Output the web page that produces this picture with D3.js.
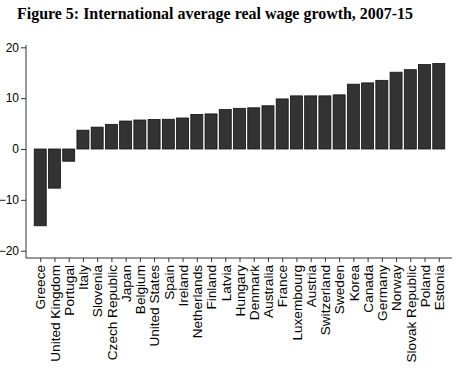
<!DOCTYPE html>
<html><head><meta charset="utf-8">
<script src="https://cdn.jsdelivr.net/npm/d3@7"></script>
<style>body{margin:0;background:#fff}svg{display:block}</style>
</head><body>
<svg id="c" width="464" height="373"></svg>
<script>
const countries = ["Greece","United Kingdom","Portugal","Italy","Slovenia","Czech Republic","Japan","Belgium","United States","Spain","Ireland","Netherlands","Finland","Latvia","Hungary","Denmark","Australia","France","Luxembourg","Austria","Switzerland","Sweden","Korea","Canada","Germany","Norway","Slovak Republic","Poland","Estonia"];
const wageGrowth = [-15.1,-7.7,-2.4,3.7,4.3,4.85,5.5,5.7,5.8,5.85,6.1,6.8,6.9,7.75,8.0,8.1,8.5,9.85,10.45,10.45,10.45,10.65,12.75,13.0,13.5,15.1,15.6,16.6,16.8];
const yTicks = [-20,-10,0,10,20];
const title = "Figure 5: International average real wage growth, 2007-15";

const svg = d3.select("#c");
const x = d3.scalePoint().domain(countries).range([26, 453]).padding(1);
const y = d3.scaleLinear().domain([-20, 20]).range([250.7, 47.3]);
const barW = 12;

svg.append("text").attr("x", 17).attr("y", 19)
  .attr("font-family", "Liberation Serif, Times New Roman, serif")
  .attr("font-weight", "bold").attr("font-size", 17.1).attr("fill", "#000")
  .attr("textLength", 396).attr("lengthAdjust", "spacingAndGlyphs")
  .text(title);

svg.append("g").selectAll("rect").data(countries).join("rect")
  .attr("x", d => x(d) - barW/2)
  .attr("width", barW)
  .attr("y", (d,i) => y(Math.max(0, wageGrowth[i])))
  .attr("height", (d,i) => Math.abs(y(wageGrowth[i]) - y(0)))
  .attr("fill", "#333").attr("stroke", "#111").attr("stroke-width", 0.8);

const yAxis = svg.append("g").attr("transform", "translate(26,0)")
  .call(d3.axisLeft(y).tickValues(yTicks).tickSize(5).tickPadding(2).tickFormat(d3.format("d")));
yAxis.select(".domain").attr("d", "M0,45V258");
yAxis.selectAll("text").attr("font-family", "Liberation Sans, Arial, sans-serif").attr("font-size", 12).attr("fill", "#000");

const xAxis = svg.append("g").attr("transform", "translate(0,258)")
  .call(d3.axisBottom(x).tickSize(4).tickSizeOuter(0));
xAxis.select(".domain").attr("d", "M26,0H452");
xAxis.selectAll("text").attr("font-family", "Liberation Sans, Arial, sans-serif").attr("font-size", 13.6).attr("fill", "#000")
  .attr("transform", "rotate(-90)").attr("text-anchor", "end")
  .attr("x", -7).attr("y", 0).attr("dy", "0.35em");
svg.selectAll(".domain, .tick line").attr("stroke", "#333");
</script>
</body></html>
